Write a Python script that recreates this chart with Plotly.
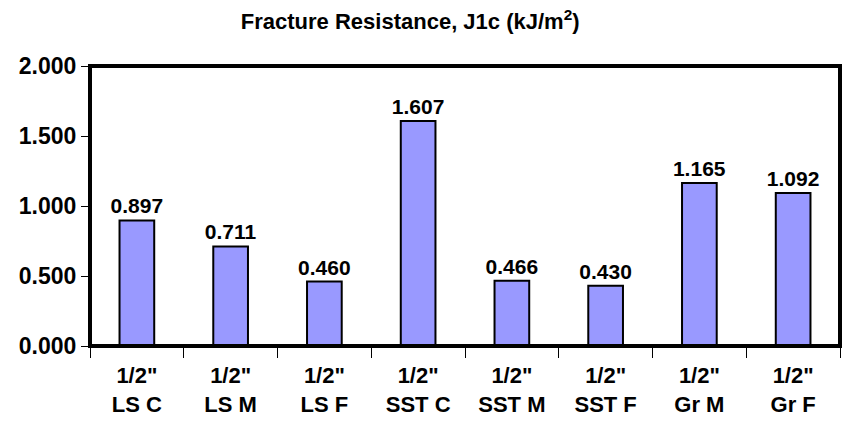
import plotly.graph_objects as go

categories = ['1/2"<br>LS C', '1/2"<br>LS M', '1/2"<br>LS F', '1/2"<br>SST C',
              '1/2"<br>SST M', '1/2"<br>SST F', '1/2"<br>Gr M', '1/2"<br>Gr F']
j1c = [0.897, 0.711, 0.460, 1.607, 0.466, 0.430, 1.165, 1.092]
y_ticks = [0.0, 0.5, 1.0, 1.5, 2.0]

font = "Liberation Sans, Arial, sans-serif"

fig = go.Figure(go.Bar(
    x=categories,
    y=j1c,
    width=0.37,
    marker=dict(color="#9999FF", line=dict(color="black", width=2)),
    texttemplate="%{y:.3f}",
    textposition="outside",
    constraintext="none",
    textfont=dict(family=font, size=21, color="black", weight="bold"),
    cliponaxis=False,
))

fig.update_layout(
    width=844, height=423,
    margin=dict(l=90, r=4, t=66, b=77),
    paper_bgcolor="white", plot_bgcolor="white",
    showlegend=False,
    title=dict(text="Fracture Resistance, J1c (kJ/m<sup>2</sup>)",
               x=0.486, xanchor="center", y=0.95, yanchor="middle",
               font=dict(family=font, size=22, color="black", weight="bold")),
    font=dict(family=font, color="black"),
)

# thick frame around the plot area
fig.add_shape(type="rect", xref="paper", yref="paper",
              x0=0, x1=1, y0=0, y1=1, line=dict(color="black", width=4),
              layer="above")

fig.update_xaxes(
    showline=False,
    ticks="outside", tickson="boundaries", ticklen=11, tickwidth=1, tickcolor="black",
    ticklabelstandoff=14,
    tickfont=dict(family=font, size=22, color="black", weight="bold"),
    showgrid=False,
)
fig.update_yaxes(
    range=[0, 2.0], tickvals=y_ticks, tickformat=".3f",
    showline=False,
    ticks="outside", ticklen=8, tickwidth=1, tickcolor="black",
    tickfont=dict(family=font, size=23, color="black", weight="bold"),
    showgrid=False, zeroline=False,
)

fig.write_html("out.html",
               config={"displayModeBar": False},
               post_script="document.body.style.margin='0';"
                           "Plotly.relayout('{plot_id}', {width: 844, height: 423});")
